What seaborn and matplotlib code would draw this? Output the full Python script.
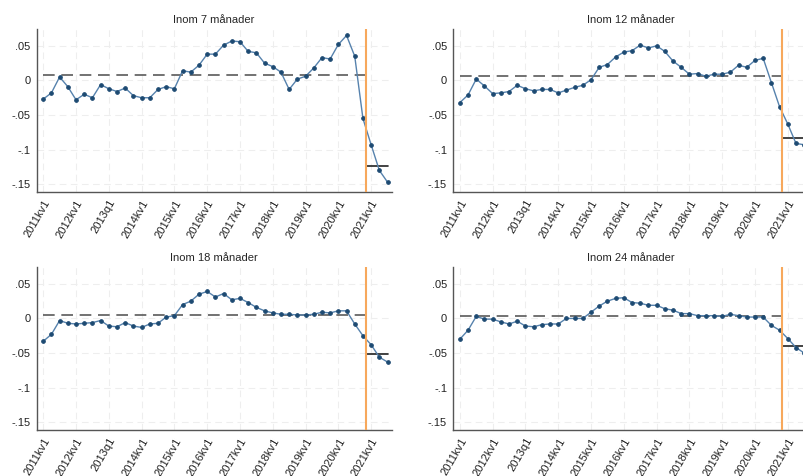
import numpy as np
import pandas as pd
import seaborn as sns
import matplotlib.pyplot as plt

# Quarterly series 2011q1 - 2021q3 (43 quarters)
quarters = list(range(43))
tick_pos = list(range(0, 41, 4))
tick_labels = ['2011kv1', '2012kv1', '2013q1', '2014kv1', '2015kv1', '2016kv1',
               '2017kv1', '2018kv1', '2019kv1', '2020kv1', '2021kv1']

titles = ['Inom 7 månader', 'Inom 12 månader', 'Inom 18 månader', 'Inom 24 månader']

m7 = [-0.027, -0.018, 0.005, -0.009, -0.028, -0.020, -0.025, -0.006, -0.012, -0.016,
      -0.011, -0.022, -0.025, -0.025, -0.013, -0.009, -0.012, 0.014, 0.012, 0.022,
      0.038, 0.038, 0.051, 0.057, 0.056, 0.042, 0.040, 0.025, 0.020, 0.012,
      -0.013, 0.002, 0.006, 0.018, 0.033, 0.031, 0.052, 0.065, 0.035, -0.055,
      -0.093, -0.130, -0.147]
m12 = [-0.032, -0.021, 0.002, -0.008, -0.019, -0.018, -0.016, -0.007, -0.012, -0.015,
       -0.013, -0.013, -0.018, -0.014, -0.010, -0.007, 0.001, 0.019, 0.023, 0.034,
       0.041, 0.043, 0.051, 0.047, 0.050, 0.042, 0.028, 0.019, 0.009, 0.010,
       0.006, 0.009, 0.009, 0.012, 0.022, 0.019, 0.029, 0.032, -0.003, -0.038,
       -0.063, -0.091, -0.093]
m18 = [-0.033, -0.023, -0.003, -0.007, -0.008, -0.007, -0.006, -0.003, -0.011, -0.012,
       -0.006, -0.011, -0.013, -0.008, -0.007, 0.002, 0.004, 0.020, 0.025, 0.035,
       0.039, 0.031, 0.036, 0.027, 0.029, 0.023, 0.016, 0.011, 0.008, 0.006,
       0.006, 0.005, 0.005, 0.006, 0.009, 0.008, 0.011, 0.011, -0.008, -0.025,
       -0.038, -0.056, -0.063]
m24 = [-0.030, -0.017, 0.003, -0.001, -0.001, -0.005, -0.008, -0.004, -0.011, -0.012,
       -0.009, -0.008, -0.008, 0.000, 0.000, 0.000, 0.009, 0.018, 0.025, 0.029,
       0.030, 0.023, 0.022, 0.019, 0.019, 0.014, 0.012, 0.007, 0.007, 0.004,
       0.004, 0.004, 0.003, 0.006, 0.004, 0.002, 0.002, 0.002, -0.010, -0.017,
       -0.029, -0.042, -0.050]
series = [m7, m12, m18, m24]

# mean before / after the cutoff
pre_mean = [0.008, 0.007, 0.005, 0.003]
post_mean = [-0.123, -0.083, -0.052, -0.040]
cutoff = 39.35

sns.set_style('white')
plt.rcParams['font.family'] = ['Liberation Sans', 'DejaVu Sans']

fig = plt.figure(figsize=(8.04, 4.76), dpi=100)
positions = [[0.0456, 0.597, 0.4415, 0.343],
             [0.5638, 0.597, 0.4415, 0.343],
             [0.0456, 0.097, 0.4415, 0.343],
             [0.5638, 0.097, 0.4415, 0.343]]

for pos, title, vals, pre, post in zip(positions, titles, series, pre_mean, post_mean):
    ax = fig.add_axes(pos)
    df = pd.DataFrame({'q': quarters, 'v': vals})
    ax.grid(True, color='#eeeeee', linestyle=(0, (6, 4)), linewidth=0.8)
    ax.set_axisbelow(True)
    ax.plot([0, cutoff], [pre, pre], color='#5a5a5a', linestyle=(0, (7, 4)), linewidth=1.2, zorder=2)
    ax.plot([cutoff, 42], [post, post], color='#222222', linewidth=1.2, zorder=2)
    sns.lineplot(data=df, x='q', y='v', ax=ax, color='#5682ad', linewidth=1.0,
                 marker='o', markersize=2.6, markerfacecolor='#1d4a72',
                 markeredgecolor='#1d4a72', zorder=3)
    ax.axvline(cutoff, color='#f7a85c', linewidth=1.5, zorder=4)
    ax.set_xlim(-0.8, 42.5)
    ax.set_ylim(-0.161, 0.075)
    ax.set_xticks(tick_pos)
    ax.set_xticklabels(tick_labels, rotation=60, ha='right', rotation_mode='anchor', fontsize=8)
    ax.set_yticks([0.05, 0, -0.05, -0.1, -0.15])
    ax.set_yticklabels(['.05', '0', '-.05', '-.1', '-.15'], fontsize=8)
    ax.set_xlabel('')
    ax.set_ylabel('')
    ax.set_title(title, fontsize=8, pad=4)
    for s in ['top', 'right']:
        ax.spines[s].set_visible(False)
    for s in ['left', 'bottom']:
        ax.spines[s].set_color('#555555')
        ax.spines[s].set_linewidth(1.0)
    ax.tick_params(axis='both', direction='out', length=3, width=0.8, color='#555555',
                   labelcolor='#222222', pad=1.5)

plt.savefig('out.png', dpi=100)
